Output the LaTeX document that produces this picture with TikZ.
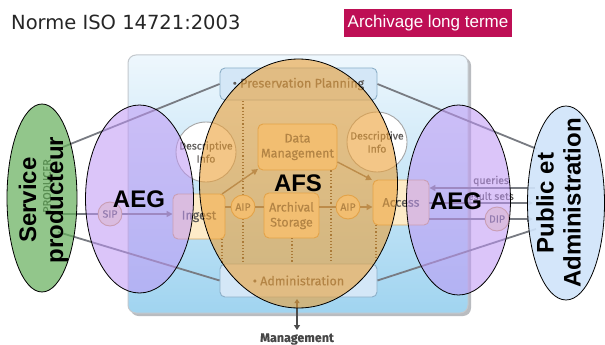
\documentclass[tikz,border=0pt]{standalone}
\usepackage{fontspec}
\usetikzlibrary{arrows.meta,shapes.geometric}
\newfontfamily\titlefont{DejaVu Sans}
\newfontfamily\tagfont{Liberation Sans}
\newfontfamily\oaisfont[FakeBold=0.5]{Fira Sans}
\newfontfamily\bigfont{Liberation Sans}

\definecolor{tagred}{RGB}{190,15,85}
\definecolor{frametop}{RGB}{238,247,253}
\definecolor{framebot}{RGB}{160,212,240}
\definecolor{frameedge}{RGB}{195,200,205}
\definecolor{frameshadow}{RGB}{185,188,192}
\definecolor{bandfill}{RGB}{212,231,247}
\definecolor{bandedge}{RGB}{140,175,200}
\definecolor{unitfill}{RGB}{253,235,200}
\definecolor{unitedge}{RGB}{215,168,100}
\definecolor{unittext}{RGB}{95,92,90}
\definecolor{linkgray}{RGB}{120,123,130}
\definecolor{innerlink}{RGB}{120,112,104}
\definecolor{dotcol}{RGB}{75,65,55}
\definecolor{infoedge}{RGB}{165,165,165}
\definecolor{prodgreen}{RGB}{100,175,90}
\definecolor{aegviolet}{RGB}{190,150,245}
\definecolor{afsorange}{RGB}{235,160,55}
\definecolor{consblue}{RGB}{208,228,250}

\tikzset{
  band/.style={draw=bandedge, fill=bandfill, line width=0.9pt, rounded corners=5pt,
    minimum width=157pt, inner sep=0pt, text=unittext,
    font=\oaisfont\fontsize{12.5}{14}\selectfont},
  unit/.style={draw=unitedge, fill=unitfill, line width=0.9pt, rounded corners=5pt,
    inner sep=0pt, align=center, text=unittext,
    font=\oaisfont\fontsize{12.5}{15}\selectfont},
  pkg/.style={circle, draw=unitedge, fill=unitfill, line width=0.9pt, minimum size=24pt,
    inner sep=0pt, text=unittext, font=\oaisfont\fontsize{10.5}{11}\selectfont},
  info/.style={circle, draw=infoedge, fill=white, line width=0.9pt, minimum size=60pt,
    inner sep=0pt, align=center, text=unittext,
    font=\oaisfont\fontsize{10.5}{13}\selectfont},
  link/.style={draw=linkgray, line width=1.8pt},
  flow/.style={draw=innerlink, line width=1.4pt},
  tip/.style={-{Triangle[length=6pt,width=6pt]}},
  dotline/.style={draw=dotcol, line width=1.2pt, dotted},
  zone/.style={draw=black, line width=0.8pt, fill opacity=#1, text opacity=1},
  biglabel/.style={font=\bigfont\bfseries\fontsize{24}{27}\selectfont, text=black, align=center},
  flowlabel/.style={text=unittext, font=\oaisfont\fontsize{10.5}{12}\selectfont, inner sep=0pt}
}

\begin{document}
\begin{tikzpicture}[x=1pt,y=-1pt]
\useasboundingbox (0,0) rectangle (605,345);
\fill[white] (0,0) rectangle (605,345);

% heading and tag
\node[anchor=west, inner sep=0pt, text=black!85,
  font=\titlefont\fontsize{19.5}{21}\selectfont] (title) at (11,22) {Norme ISO 14721:2003};
\node[fill=tagred, text=white, minimum width=168pt, minimum height=28pt, inner sep=0pt,
  font=\tagfont\fontsize{17}{19}\selectfont] (tag) at (428,23.5) {Archivage long terme};

% OAIS frame with its shadow
\fill[frameshadow, rounded corners=8pt] (130.5,57.5) rectangle (471,316);
\node[draw=frameedge, line width=1pt, rounded corners=8pt, top color=frametop,
  bottom color=framebot, minimum width=340pt, minimum height=258pt, inner sep=0pt]
  (oais) at (298,184) {};

% connectors to the producer and consumer sides
\coordinate (prodA) at (63,147);
\coordinate (prodB) at (62,214);
\coordinate (prodC) at (58,232);
\coordinate (consA) at (537,149);
\coordinate (consB) at (536,229);
\coordinate (consQ) at (535,188);
\coordinate (consR) at (533,203);
\coordinate (consD) at (533,219);

% functional entities
\node[band] (pp) at (298.5,84) [minimum height=32pt] {\textbullet\ Preservation Planning};
\node[band] (adm) at (298.5,280.5) [minimum height=33pt] {\textbullet\ Administration};
\node[unit, minimum width=79pt, minimum height=46pt] (dm) at (297.5,147) {Data\\Management};
\node[unit, minimum width=52pt, minimum height=45pt] (ingest) at (199,216.5) {Ingest};
\node[unit, minimum width=55pt, minimum height=45pt] (store) at (291.5,215.5) {Archival\\Storage};
\node[unit, minimum width=56pt, minimum height=45pt] (access) at (401,202.5) {Access};
\node[info] (infoL) at (206,152) {Descriptive\\Info};
\node[info] (infoR) at (377,142) {Descriptive\\Info};

% internal dotted links
\draw[dotline] (243,101) -- (243,195);
\draw[dotline] (243,219) -- (243,263);
\draw[dotline] (dm.south -| 331,0) -- (331,263);
\draw[dotline] (222,239) -- (222,263);
\draw[dotline] (292,238) -- (292,263);
\draw[dotline] (376,225) -- (376,263);

\node[pkg] (aipL) at (243,207) {AIP};
\node[pkg] (aipR) at (348,207) {AIP};
\node[pkg] (sip) at (110,214) {SIP};
\node[pkg] (dip) at (497,219) {DIP};

% internal flows
\draw[flow, tip] (222,194) -- (258,169);
\draw[flow, tip] (dm.east |- 0,162) -- (372,180);
\draw[flow] (ingest.east |- aipL) -- (aipL.west);
\draw[flow] (aipL.east) -- (store.west |- aipL);
\draw[flow] (store.east |- aipR) -- (aipR.west);
\draw[flow, tip] (aipR.east) -- (access.west |- aipR);

% external links
\draw[link] (prodA) -- (pp.west);
\draw[link] (prodC) -- (adm.west);
\draw[link] (pp.east) -- (consA);
\draw[link] (adm.east) -- (consB);
\draw[link] (prodB) -- (sip.west);
\draw[link, tip] (sip.east) -- (sip -| ingest.west);
\draw[link, tip] (consQ) -- (access.east |- consQ);
\draw[link, tip] (access.east |- consR) -- (consR);
\draw[link] (access.east |- consD) -- (dip.west);
\draw[link, tip] (dip.east) -- (consD);
\node[flowlabel] (qlab) at (491,181) {queries};
\node[flowlabel] (rlab) at (489,196) {result sets};

% management link
\node[inner sep=0pt, text=black!72, font=\oaisfont\bfseries\fontsize{12.5}{14}\selectfont]
  (mgmt) at (297,339) {Management};
\draw[draw=black!70, line width=1.3pt, {Triangle[length=4pt,width=5pt]}-{Triangle[length=5pt,width=6pt]}]
  (297,299) -- (297,330);

% producer name under its zone
\node[rotate=90, text=black!75, font=\oaisfont\fontsize{11}{12}\selectfont, inner sep=0pt]
  (prodname) at (47,186) {PRODUCER};

% zones laid over the model
\draw[zone=0.7, fill=prodgreen] (42,198) ellipse [x radius=35, y radius=94];
\draw[zone=0.55, fill=aegviolet] (139.5,199) ellipse [x radius=54, y radius=94];
\draw[zone=0.6, fill=afsorange] (298.5,183.5) ellipse [x radius=99, y radius=124.5];
\draw[zone=0.55, fill=aegviolet] (458.5,200) ellipse [x radius=52, y radius=95];
\draw[zone=0.9, fill=consblue] (566,203) ellipse [x radius=38.5, y radius=97];

% zone labels
\node[biglabel] (aegL) at (139,199) {AEG};
\node[biglabel] (afs) at (298,183) {AFS};
\node[biglabel] (aegR) at (456,201) {AEG};
\node[biglabel, rotate=90] (producer) at (43.5,200) {Service\\producteur};
\node[biglabel, rotate=90] (consumer) at (558.5,203) {Public et\\Administration};
\end{tikzpicture}
\end{document}
